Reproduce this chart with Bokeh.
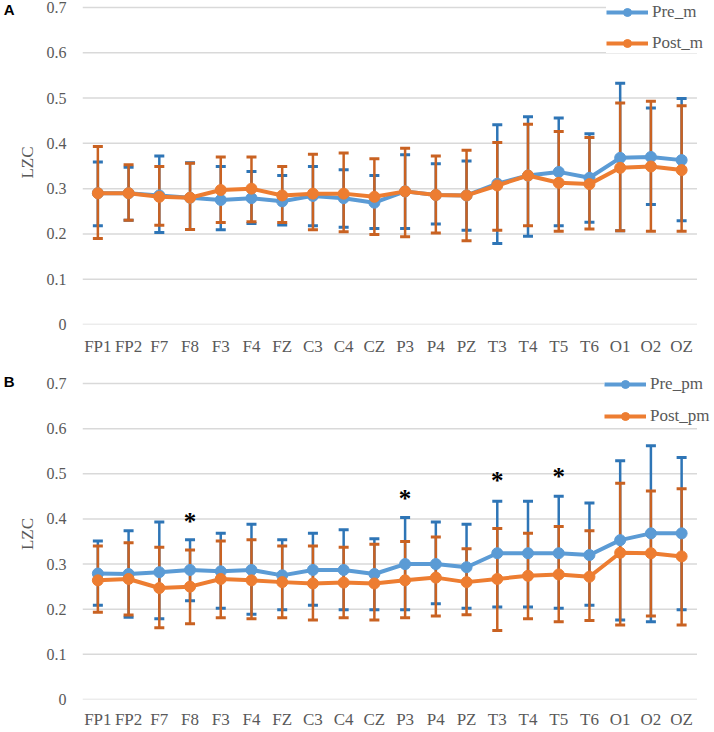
from bokeh.plotting import figure
from bokeh.models import Range1d, FixedTicker, Legend, LegendItem, LinearAxis
from bokeh.layouts import column
from bokeh.core.properties import value
from bokeh.embed import file_html
from bokeh.resources import INLINE

electrodes = ["FP1", "FP2", "F7", "F8", "F3", "F4", "FZ", "C3", "C4", "CZ",
              "P3", "P4", "PZ", "T3", "T4", "T5", "T6", "O1", "O2", "OZ"]

y_ticks = [0, 0.1, 0.2, 0.3, 0.4, 0.5, 0.6, 0.7]
y_tick_labels = ["0", "0.1", "0.2", "0.3", "0.4", "0.5", "0.6", "0.7"]

# Panel A (mean LZC, error bar ends)
pre_m = [0.290, 0.290, 0.285, 0.280, 0.275, 0.279, 0.272, 0.284, 0.279, 0.269,
         0.294, 0.286, 0.285, 0.311, 0.329, 0.337, 0.324, 0.368, 0.370, 0.363]
pre_m_hi = [0.359, 0.347, 0.372, 0.357, 0.349, 0.338, 0.329, 0.349, 0.342, 0.329,
            0.375, 0.355, 0.361, 0.441, 0.459, 0.456, 0.421, 0.533, 0.478, 0.499]
pre_m_lo = [0.218, 0.230, 0.203, 0.210, 0.209, 0.223, 0.220, 0.218, 0.215, 0.212,
            0.212, 0.222, 0.208, 0.179, 0.195, 0.218, 0.226, 0.207, 0.265, 0.229]
post_m = [0.290, 0.290, 0.282, 0.280, 0.297, 0.300, 0.285, 0.289, 0.289, 0.282,
          0.294, 0.286, 0.285, 0.307, 0.329, 0.313, 0.310, 0.346, 0.349, 0.341]
post_m_hi = [0.393, 0.353, 0.349, 0.356, 0.370, 0.370, 0.349, 0.376, 0.379, 0.366,
             0.389, 0.372, 0.385, 0.402, 0.442, 0.426, 0.413, 0.489, 0.493, 0.483]
post_m_lo = [0.190, 0.230, 0.219, 0.210, 0.225, 0.227, 0.225, 0.209, 0.205, 0.199,
             0.194, 0.202, 0.185, 0.208, 0.218, 0.206, 0.211, 0.207, 0.206, 0.206]

# Panel B
pre_pm = [0.279, 0.278, 0.282, 0.287, 0.284, 0.287, 0.275, 0.287, 0.287, 0.278,
          0.300, 0.300, 0.293, 0.324, 0.324, 0.324, 0.320, 0.353, 0.368, 0.368]
pre_pm_hi = [0.351, 0.374, 0.393, 0.354, 0.368, 0.388, 0.354, 0.368, 0.376, 0.356,
             0.403, 0.393, 0.388, 0.439, 0.439, 0.450, 0.435, 0.529, 0.562, 0.536]
pre_pm_lo = [0.209, 0.182, 0.179, 0.219, 0.202, 0.189, 0.199, 0.209, 0.199, 0.199,
             0.199, 0.212, 0.202, 0.205, 0.205, 0.202, 0.209, 0.176, 0.172, 0.199]
post_pm = [0.264, 0.267, 0.247, 0.250, 0.267, 0.264, 0.260, 0.257, 0.259, 0.257,
           0.264, 0.270, 0.260, 0.267, 0.274, 0.277, 0.272, 0.325, 0.324, 0.317]
post_pm_hi = [0.340, 0.347, 0.337, 0.331, 0.351, 0.354, 0.340, 0.340, 0.337, 0.344,
              0.350, 0.360, 0.334, 0.379, 0.368, 0.383, 0.374, 0.479, 0.462, 0.467]
post_pm_lo = [0.193, 0.187, 0.159, 0.168, 0.181, 0.179, 0.181, 0.176, 0.181, 0.176,
              0.181, 0.185, 0.188, 0.153, 0.179, 0.172, 0.175, 0.165, 0.185, 0.165]

sig_electrodes = ["F8", "P3", "T3", "T5"]
sig_y = [0.394, 0.445, 0.485, 0.494]

BLUE = "#5B9BD5"
BLUE_BAR = "#2E75B6"
ORANGE = "#ED7D31"
ORANGE_BAR = "#C96222"
TEXT = "#595959"
SERIF = "Liberation Serif"

xpos = list(range(len(electrodes)))          # position of each electrode on the axis
X_LEFT, X_RIGHT = -0.5, len(electrodes) - 0.5  # category band limits


def make_panel(letter, letter_pos, series, height, bt, bb, y_end, x_standoff,
               legend_pos, legend_spacing, stars=None):
    p = figure(x_range=Range1d(X_LEFT, 20.07), y_range=Range1d(0, y_end),
               width=714, height=height, output_backend="svg", toolbar_location=None,
               min_border_left=81, min_border_right=0, min_border_top=bt,
               min_border_bottom=bb)
    p.outline_line_color = None
    p.background_fill_color = "white"
    p.xgrid.grid_line_color = None
    p.ygrid.grid_line_color = None
    p.xaxis.ticker = FixedTicker(ticks=xpos)
    p.xaxis.major_label_overrides = {i: e for i, e in zip(xpos, electrodes)}
    p.yaxis.ticker = FixedTicker(ticks=y_ticks)
    p.yaxis.major_label_overrides = {t: l for t, l in zip(y_ticks, y_tick_labels)}
    for ax in (p.xaxis[0], p.yaxis[0]):
        ax.axis_line_color = None
        ax.major_tick_line_color = None
        ax.minor_tick_line_color = None
        ax.major_label_text_font = SERIF
        ax.major_label_text_color = TEXT
    p.yaxis.major_tick_out = 0
    p.yaxis.major_tick_in = 0
    p.yaxis.major_label_text_font_size = "16px"
    p.yaxis.major_label_standoff = 16
    p.xaxis.major_label_text_font_size = "17px"
    p.xaxis.major_label_standoff = x_standoff
    p.yaxis.axis_label = "LZC"
    p.yaxis.axis_label_text_font = SERIF
    p.yaxis.axis_label_text_font_size = "17px"
    p.yaxis.axis_label_text_font_style = "normal"
    p.yaxis.axis_label_text_color = TEXT
    p.yaxis.axis_label_standoff = 7

    # panel letter, as the single label of an outer left axis
    la = LinearAxis(ticker=FixedTicker(ticks=[letter_pos]),
                    major_label_overrides={letter_pos: letter},
                    axis_line_color=None, major_tick_line_color=None,
                    minor_tick_line_color=None, major_tick_out=0, major_tick_in=0,
                    minor_tick_out=0, minor_tick_in=0, major_label_standoff=0,
                    major_label_text_font="Liberation Sans",
                    major_label_text_font_style="bold",
                    major_label_text_font_size="15px", major_label_text_color="black")
    p.add_layout(la, "left")

    # horizontal gridlines spanning the category area only
    p.segment(x0=[X_LEFT] * len(y_ticks), x1=[X_RIGHT] * len(y_ticks), y0=y_ticks, y1=y_ticks,
              line_color="#D9D9D9", line_width=1.5)

    # error bars first (behind lines)
    for name, vals, lo, hi, col, bar in series:
        p.segment(x0=xpos, y0=lo, x1=xpos, y1=hi, line_color=bar, line_width=2.5)
        p.scatter(x=xpos, y=hi, marker="dash", size=10, line_color=bar, line_width=3)
        p.scatter(x=xpos, y=lo, marker="dash", size=10, line_color=bar, line_width=3)

    items = []
    for name, vals, lo, hi, col, bar in series:
        lr = p.line(x=xpos, y=vals, line_color=col, line_width=4)
        sr = p.scatter(x=xpos, y=vals, size=11, fill_color=col, line_color=col)
        items.append(LegendItem(label=name, renderers=[lr, sr]))

    if stars is not None:
        sx = [electrodes.index(e) for e in stars[0]]
        p.text(x=sx, y=stars[1], text=["*"] * len(sx), text_align="center",
               text_baseline="middle", text_font=value(SERIF), text_font_size="25px",
               text_font_style="bold", text_color="black")

    leg = Legend(items=items, location=legend_pos, orientation="vertical",
                 glyph_width=42, glyph_height=20, label_height=20, label_standoff=4,
                 spacing=legend_spacing, padding=0, margin=0, border_line_color=None,
                 background_fill_color="white", background_fill_alpha=1.0,
                 label_text_font=SERIF, label_text_font_size="17px",
                 label_text_color=TEXT)
    p.add_layout(leg)
    return p


pA = make_panel("A", 0.6956,
                [("Pre_m", pre_m, pre_m_lo, pre_m_hi, BLUE, BLUE_BAR),
                 ("Post_m", post_m, post_m_lo, post_m_hi, ORANGE, ORANGE_BAR)],
                height=358, bt=0, bb=34, y_end=0.7155, x_standoff=6,
                legend_pos=(524, 271), legend_spacing=11)
pB = make_panel("B", 0.7044,
                [("Pre_pm", pre_pm, pre_pm_lo, pre_pm_hi, BLUE, BLUE_BAR),
                 ("Post_pm", post_pm, post_pm_lo, post_pm_hi, ORANGE, ORANGE_BAR)],
                height=373, bt=10, bb=32, y_end=0.7332, x_standoff=4,
                legend_pos=(522, 273), legend_spacing=12,
                stars=(sig_electrodes, sig_y))

layout = column(pA, pB)
open("out.html", "w").write(file_html(layout, INLINE))
